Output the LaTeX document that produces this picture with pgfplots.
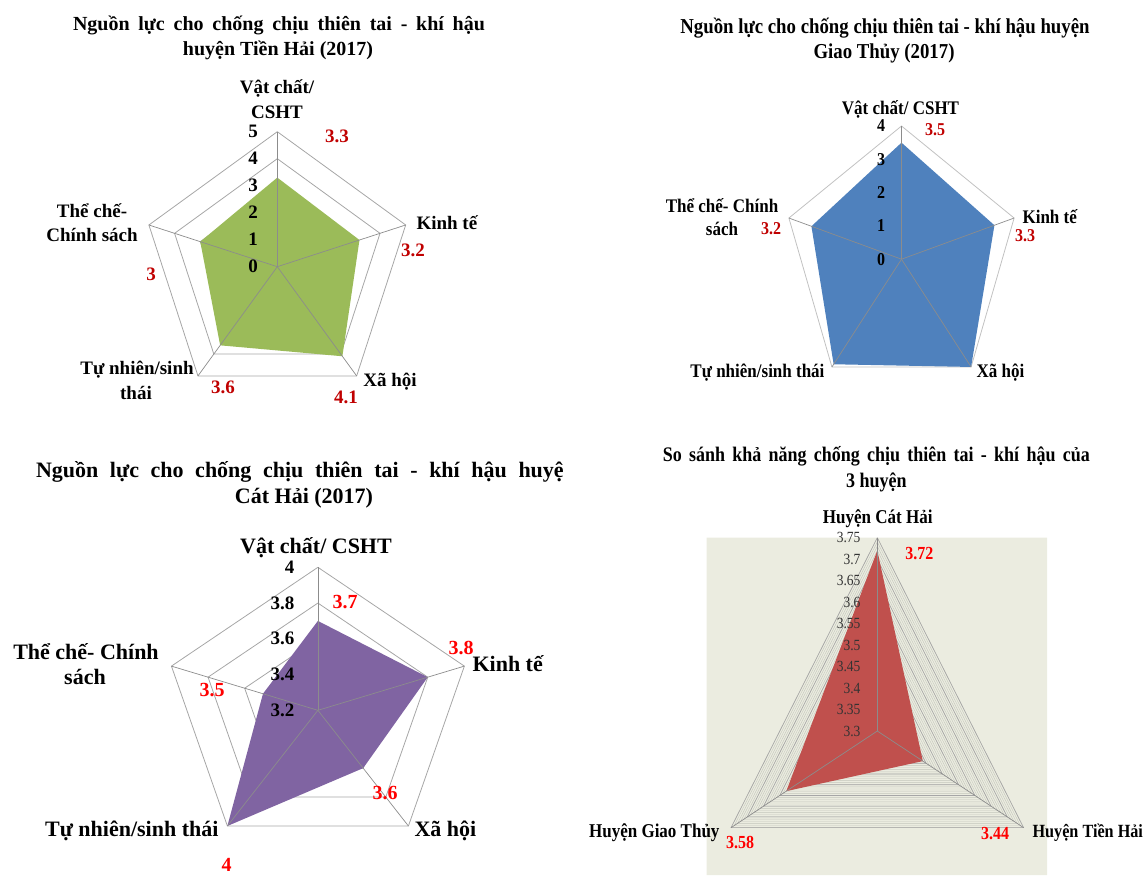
\documentclass[border=0pt]{standalone}
\usepackage{fontspec}
\setmainfont{Liberation Serif}
\usepackage{graphicx}
\usepackage{pgfplots}
\pgfplotsset{compat=1.18}
\usepackage{pgfplotstable}

\definecolor{cgreen}{HTML}{9BBB59}
\definecolor{cblue}{HTML}{4F81BD}
\definecolor{cpurple}{HTML}{8064A2}
\definecolor{cred}{HTML}{C0504D}
\definecolor{dred}{HTML}{C00000}
\definecolor{bred}{HTML}{FF0000}
\definecolor{ringc}{HTML}{A6A6A6}
\definecolor{spokec}{HTML}{8C8C8C}
\definecolor{bgc}{HTML}{EBECE0}
\definecolor{minc}{HTML}{C4C6BC}

\newcommand{\F}[1]{\bfseries\fontsize{#1}{#1}\selectfont}
\newcommand{\vs}[2][1.13]{\scalebox{1}[#1]{#2}}
\newcommand{\jl}[2]{\makebox[#1][s]{#2}}

% data: angle (deg), value
\pgfplotstableread{
a r
90 3.3
18 3.2
-54 4.1
-126 3.6
162 3.0
90 3.3
}\tienhai
\pgfplotstableread{
a r
90 3.5
18 3.3
-54 4.0
-126 3.9
162 3.2
90 3.5
}\giaothuy
\pgfplotstableread{
a r
90 3.7
18 3.8
-54 3.6
-126 4.0
162 3.5
90 3.7
}\cathai
\pgfplotstableread{
a r
90 3.72
-30 3.44
210 3.58
90 3.72
}\sosanh
\pgfplotstableread{
a r
90 1
18 1
-54 1
-126 1
162 1
90 1
}\pent
\pgfplotstableread{
a r
90 1
-30 1
210 1
90 1
}\tri

\begin{document}
\begin{tikzpicture}
\useasboundingbox (0,0) rectangle (1145pt,875pt);
\begin{axis}[at={(0pt,0pt)}, anchor=south west, scale only axis,
  x=1pt, y=1pt, xmin=0, xmax=1145, ymin=0, ymax=875, y dir=reverse,
  hide axis, clip=false, no markers,
  every node/.style={inner sep=0pt},
  ring/.style={draw=ringc, line width=0.8pt},
  spoke/.style={draw=spokec, line width=0.7pt}]

% ---------- Chart 1: Tien Hai ----------
\pgfplotsinvokeforeach{1,2,3,4,5}{
  \addplot[ring] table[x expr={277.3+27*#1*cos(\thisrow{a})}, y expr={266.7-27*#1*sin(\thisrow{a})}] {\pent};
}
\addplot[fill=cgreen, draw=none] table[x expr={277.3+27*\thisrow{r}*cos(\thisrow{a})}, y expr={266.7-27*\thisrow{r}*sin(\thisrow{a})}] {\tienhai};
\pgfplotsinvokeforeach{90,18,-54,-126,162}{
  \addplot[spoke] coordinates {(277.3,266.7) ({277.3+135*cos(#1)},{266.7-135*sin(#1)})};
}
\node at (axis cs:279,25) {\F{20}\jl{412pt}{Nguồn lực cho chống chịu thiên tai - khí hậu}};
\node at (axis cs:278,50) {\F{20}huyện Tiền Hải (2017)};
\node at (axis cs:277,88) {\F{19}Vật chất/};
\node at (axis cs:277,112) {\F{19}CSHT};
\node[anchor=west] at (axis cs:413,223) {\F{19}Kinh tế};
\node at (axis cs:92,211) {\F{19}Thể chế-};
\node at (axis cs:92,235) {\F{19}Chính sách};
\node at (axis cs:137,370) {\F{19}Tự nhiên/sinh};
\node at (axis cs:136,393) {\F{19}thái};
\node at (axis cs:390,382) {\F{19}Xã hội};
\pgfplotsinvokeforeach{0,1,2,3,4,5}{
  \node at (axis cs:253,{266.7-27*#1}) {\F{19}#1};
}
\node[text=dred] at (axis cs:337,136) {\F{19}3.3};
\node[text=dred] at (axis cs:413,250) {\F{19}3.2};
\node[text=dred] at (axis cs:151,274) {\F{19}3};
\node[text=dred] at (axis cs:223,387) {\F{19}3.6};
\node[text=dred] at (axis cs:346,397) {\F{19}4.1};

% ---------- Chart 2: Giao Thuy ----------
\pgfplotsinvokeforeach{1,2,3,4}{
  \addplot[ring, draw=ringc!70] table[x expr={901.5+29.6*#1*cos(\thisrow{a})}, y expr={259.2-33.3*#1*sin(\thisrow{a})}] {\pent};
}
\addplot[fill=cblue, draw=none] table[x expr={901.5+29.6*\thisrow{r}*cos(\thisrow{a})}, y expr={259.2-33.3*\thisrow{r}*sin(\thisrow{a})}] {\giaothuy};
\pgfplotsinvokeforeach{90,18,-54,-126,162}{
  \addplot[spoke] coordinates {(901.5,259.2) ({901.5+118.4*cos(#1)},{259.2-133.2*sin(#1)})};
}
\node at (axis cs:885,28) {\vs{\F{18.8}Nguồn lực cho chống chịu thiên tai - khí hậu huyện}};
\node at (axis cs:884,53) {\vs{\F{18.8}Giao Thủy (2017)}};
\node at (axis cs:900.5,109) {\vs{\F{17}Vật chất/ CSHT}};
\node[anchor=west] at (axis cs:1019,217) {\vs{\F{17}Kinh tế}};
\node at (axis cs:722,206) {\vs{\F{17}Thể chế- Chính}};
\node at (axis cs:722,229) {\vs{\F{17}sách}};
\node[anchor=east] at (axis cs:828,373) {\vs{\F{17}Tự nhiên/sinh thái}};
\node[anchor=west] at (axis cs:973,373) {\vs{\F{17}Xã hội}};
\pgfplotsinvokeforeach{0,1,2,3,4}{
  \node at (axis cs:881,{259.2-33.3*#1}) {\vs{\F{16}#1}};
}
\node[text=dred] at (axis cs:935,130) {\vs{\F{16}3.5}};
\node[text=dred] at (axis cs:1025,236) {\vs{\F{16}3.3}};
\node[text=dred] at (axis cs:771,229) {\vs{\F{16}3.2}};

% ---------- Chart 3: Cat Hai ----------
\pgfplotsinvokeforeach{1,2,3,4}{
  \addplot[ring] table[x expr={317.9+192.5*0.2*#1*cos(\thisrow{a})}, y expr={710.3-178.75*0.2*#1*sin(\thisrow{a})}] {\pent};
}
\addplot[fill=cpurple, draw=none] table[x expr={317.9+192.5*(\thisrow{r}-3.2)*cos(\thisrow{a})}, y expr={710.3-178.75*(\thisrow{r}-3.2)*sin(\thisrow{a})}] {\cathai};
\pgfplotsinvokeforeach{90,18,-54,-126,162}{
  \addplot[spoke] coordinates {(317.9,710.3) ({317.9+154*cos(#1)},{710.3-143*sin(#1)})};
}
\node at (axis cs:304,498) {\F{22}Cát Hải (2017)};
\node at (axis cs:316,548) {\F{22}Vật chất/ CSHT};
\node[anchor=west] at (axis cs:469,664) {\F{22}Kinh tế};
\node at (axis cs:86,652) {\F{22}Thể chế- Chính};
\node at (axis cs:85,677) {\F{22}sách};
\node[anchor=east] at (axis cs:222,831) {\F{22}Tự nhiên/sinh thái};
\node[anchor=west] at (axis cs:411,831) {\F{22}Xã hội};
\node[anchor=east] at (axis cs:298,567.3) {\F{19}4};
\node[anchor=east] at (axis cs:298,603) {\F{19}3.8};
\node[anchor=east] at (axis cs:298,638.8) {\F{19}3.6};
\node[anchor=east] at (axis cs:298,674.5) {\F{19}3.4};
\node[anchor=east] at (axis cs:298,710.3) {\F{19}3.2};
\node[text=bred] at (axis cs:345,602) {\F{20}3.7};
\node[text=bred] at (axis cs:461,648) {\F{20}3.8};
\node[text=bred] at (axis cs:212,690) {\F{20}3.5};
\node[text=bred] at (axis cs:385,793) {\F{20}3.6};
\node[text=bred] at (axis cs:226.5,865) {\F{20}4};

% ---------- Chart 4: comparison ----------
\addplot[fill=bgc, draw=none] coordinates {(706.7,537.7) (1047,537.7) (1047,875) (706.7,875) (706.7,537.7)};
\pgfplotsinvokeforeach{1,...,45}{
  \addplot[draw=minc, line width=0.4pt] table[x expr={877.3+375.3*0.01*#1*cos(\thisrow{a})}, y expr={731-429.6*0.01*#1*sin(\thisrow{a})}] {\tri};
}
\pgfplotsinvokeforeach{1,...,9}{
  \addplot[draw=ringc, line width=0.6pt] table[x expr={877.3+375.3*0.05*#1*cos(\thisrow{a})}, y expr={731-429.6*0.05*#1*sin(\thisrow{a})}] {\tri};
}
\addplot[fill=cred, draw=none] table[x expr={877.3+375.3*(\thisrow{r}-3.3)*cos(\thisrow{a})}, y expr={731-429.6*(\thisrow{r}-3.3)*sin(\thisrow{a})}] {\sosanh};
\pgfplotsinvokeforeach{90,-30,210}{
  \addplot[spoke] coordinates {(877.3,731) ({877.3+168.9*cos(#1)},{731-193.3*sin(#1)})};
}
\node at (axis cs:876.3,456.7) {\vs[1.15]{\F{18}\jl{427pt}{So sánh khả năng chống chịu thiên tai - khí hậu của}}};
\node at (axis cs:876.3,482.7) {\vs[1.15]{\F{18}3 huyện}};
\node at (axis cs:877.7,518.3) {\vs[1.15]{\F{17}Huyện Cát Hải}};
\node[anchor=west] at (axis cs:1029,832.7) {\vs[1.15]{\F{16.2}Huyện Tiền Hải}};
\node[anchor=east] at (axis cs:723,832.7) {\vs[1.15]{\F{17}Huyện Giao Thủy}};
\node[text=bred] at (axis cs:919.4,553.3) {\vs[1.15]{\F{16}3.72}};
\node[text=bred] at (axis cs:995,834) {\vs[1.15]{\F{16}3.44}};
\node[text=bred] at (axis cs:740,843) {\vs[1.15]{\F{16}3.58}};
\node[anchor=east, text=black!80] at (axis cs:864,537.7) {\vs[1.15]{\fontsize{13.5}{13.5}\selectfont 3.75}};
\node[anchor=east, text=black!80] at (axis cs:864,559.2) {\vs[1.15]{\fontsize{13.5}{13.5}\selectfont 3.7}};
\node[anchor=east, text=black!80] at (axis cs:864,580.6) {\vs[1.15]{\fontsize{13.5}{13.5}\selectfont 3.65}};
\node[anchor=east, text=black!80] at (axis cs:864,602.1) {\vs[1.15]{\fontsize{13.5}{13.5}\selectfont 3.6}};
\node[anchor=east, text=black!80] at (axis cs:864,623.6) {\vs[1.15]{\fontsize{13.5}{13.5}\selectfont 3.55}};
\node[anchor=east, text=black!80] at (axis cs:864,645.1) {\vs[1.15]{\fontsize{13.5}{13.5}\selectfont 3.5}};
\node[anchor=east, text=black!80] at (axis cs:864,666.6) {\vs[1.15]{\fontsize{13.5}{13.5}\selectfont 3.45}};
\node[anchor=east, text=black!80] at (axis cs:864,688.0) {\vs[1.15]{\fontsize{13.5}{13.5}\selectfont 3.4}};
\node[anchor=east, text=black!80] at (axis cs:864,709.5) {\vs[1.15]{\fontsize{13.5}{13.5}\selectfont 3.35}};
\node[anchor=east, text=black!80] at (axis cs:864,731.0) {\vs[1.15]{\fontsize{13.5}{13.5}\selectfont 3.3}};
\end{axis}
\begin{scope}
\clip (0,0) rectangle (563pt,875pt);
\node[anchor=west, inner sep=0pt] at (35.8pt,{875pt-471.7pt}) {\F{22}\jl{540pt}{Nguồn lực cho chống chịu thiên tai - khí hậu huyện}};
\end{scope}
\end{tikzpicture}
\end{document}
